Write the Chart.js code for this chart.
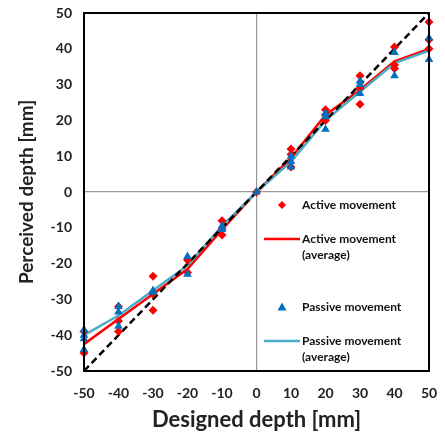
<!DOCTYPE html>
<html>
<head>
<meta charset="utf-8">
<script src="https://cdn.jsdelivr.net/npm/chart.js@4.4.0/dist/chart.umd.min.js"></script>
<style>
  html, body { margin: 0; padding: 0; background: #fff; }
  #wrap { width: 445px; height: 434px; }
</style>
</head>
<body>
<div id="wrap"><canvas id="chart" width="445" height="434"></canvas></div>
<script>
// designed depths (x axis, mm)
const designedDepth = [-50, -40, -30, -20, -10, 0, 10, 20, 30, 40, 50];

// individual trials per designed depth
const activeTrials = [
  [-39, -45], [-32, -36, -39], [-23.5, -33, -28.5], [-19, -22.5], [-8, -12, -10.5],
  [0], [12, 10.5, 7], [23, 21.5, 20], [32.5, 24.5, 29], [40.5, 35.5, 34.5], [47.5, 42.5, 40]
];
const passiveTrials = [
  [-38.5, -40, -41, -44], [-32, -33.5, -37.5], [-27.5, -28], [-18, -23], [-9.5, -10.5],
  [0], [10, 8.5, 7], [22, 21, 17.5], [31, 30, 27.5], [39, 32.5], [43, 37]
];

// averages
const activeAverage = [-42.5, -35.5, -28.5, -21.5, -10.5, 0, 9.5, 21.5, 28.5, 36.5, 40];
const passiveAverage = [-40, -34.5, -27.5, -20.5, -9.5, 0, 8.5, 20, 28, 36, 39.5];

const axisTicks = [-50, -40, -30, -20, -10, 0, 10, 20, 30, 40, 50];

const RED = '#ff0000';
const BLUE = '#0070c0';
const LIGHTBLUE = '#4bacc6';
const FONT = 'Lato, "Open Sans", sans-serif';

function toPoints(trials) {
  const pts = [];
  trials.forEach((vals, i) => {
    vals.forEach(v => pts.push({ x: designedDepth[i], y: v }));
  });
  return pts;
}
function pair(xs, ys) {
  return xs.map((x, i) => ({ x: x, y: ys[i] }));
}

// frame around the plot area + legend inside it
const framePlugin = {
  id: 'frame',
  afterDatasetsDraw(chart) {
    const { ctx, chartArea: a } = chart;
    ctx.save();
    ctx.strokeStyle = '#000';
    ctx.lineWidth = 2;
    ctx.strokeRect(a.left, a.top, a.right - a.left, a.bottom - a.top);

    const sx = a.right - 147;
    const tx = a.right - 127;
    ctx.font = 'bold 12px ' + FONT;
    ctx.fillStyle = '#111';
    ctx.textBaseline = 'middle';
    ctx.textAlign = 'left';

    // active markers
    let y = a.bottom - 166;
    ctx.fillStyle = RED;
    ctx.beginPath();
    ctx.moveTo(sx, y - 4); ctx.lineTo(sx + 4, y); ctx.lineTo(sx, y + 4); ctx.lineTo(sx - 4, y);
    ctx.closePath(); ctx.fill();
    ctx.fillStyle = '#111';
    ctx.fillText('Active movement', tx, y);

    // active average
    y = a.bottom - 132;
    ctx.strokeStyle = RED; ctx.lineWidth = 2.5;
    ctx.beginPath(); ctx.moveTo(a.right - 165, y); ctx.lineTo(a.right - 129, y); ctx.stroke();
    ctx.fillText('Active movement', tx, y);
    ctx.fillText('(average)', tx, y + 16);

    // passive markers
    y = a.bottom - 64;
    ctx.fillStyle = BLUE;
    ctx.beginPath();
    ctx.moveTo(sx, y - 4.5); ctx.lineTo(sx + 4.5, y + 3.5); ctx.lineTo(sx - 4.5, y + 3.5);
    ctx.closePath(); ctx.fill();
    ctx.fillStyle = '#111';
    ctx.fillText('Passive movement', tx, y);

    // passive average
    y = a.bottom - 30;
    ctx.strokeStyle = LIGHTBLUE; ctx.lineWidth = 2.5;
    ctx.beginPath(); ctx.moveTo(a.right - 165, y); ctx.lineTo(a.right - 129, y); ctx.stroke();
    ctx.fillText('Passive movement', tx, y);
    ctx.fillText('(average)', tx, y + 16);
    ctx.restore();
  }
};

new Chart(document.getElementById('chart').getContext('2d'), {
  type: 'scatter',
  data: {
    datasets: [
      {
        label: 'Passive movement',
        data: toPoints(passiveTrials),
        pointStyle: 'triangle',
        pointRadius: 5,
        backgroundColor: BLUE,
        borderColor: BLUE,
        borderWidth: 0,
        clip: false,
        order: 1,
      },
      {
        label: 'Active movement',
        data: toPoints(activeTrials),
        pointStyle: 'rectRot',
        pointRadius: 4.5,
        backgroundColor: RED,
        borderColor: RED,
        borderWidth: 0,
        clip: false,
        order: 2,
      },
      {
        label: 'Ideal',
        data: pair(designedDepth, designedDepth),
        showLine: true,
        borderColor: '#000',
        borderWidth: 2.5,
        borderDash: [7, 4],
        pointRadius: 0,
        order: 3,
      },
      {
        label: 'Passive movement (average)',
        data: pair(designedDepth, passiveAverage),
        showLine: true,
        borderColor: LIGHTBLUE,
        borderWidth: 2.5,
        pointRadius: 0,
        order: 4,
      },
      {
        label: 'Active movement (average)',
        data: pair(designedDepth, activeAverage),
        showLine: true,
        borderColor: RED,
        borderWidth: 2.5,
        pointRadius: 0,
        order: 5,
      },
    ],
  },
  options: {
    responsive: false,
    animation: false,
    layout: { padding: { top: 13, right: 16, left: 0, bottom: 0 } },
    plugins: {
      legend: { display: false },
      tooltip: { enabled: false },
    },
    scales: {
      x: {
        type: 'linear',
        min: -50, max: 50,
        afterBuildTicks(scale) { scale.ticks = axisTicks.map(v => ({ value: v })); },
        afterFit(scale) {
          scale.height = 63;
          scale.paddingLeft = 0; scale.paddingRight = 0;
        },
        grid: {
          drawTicks: false,
          color: c => (c.tick && c.tick.value === 0 ? '#999' : 'transparent'),
          lineWidth: 1.2,
        },
        border: { display: false },
        ticks: {
          padding: 14,
          color: '#222',
          font: { family: FONT, size: 14, weight: 'bold' },
        },
        title: {
          display: true,
          text: 'Designed depth [mm]',
          color: '#222',
          font: { family: FONT, size: 22, weight: 'bold' },
          padding: { top: 0, bottom: 1 },
        },
      },
      y: {
        type: 'linear',
        min: -50, max: 50,
        afterBuildTicks(scale) { scale.ticks = axisTicks.map(v => ({ value: v })); },
        afterFit(scale) {
          scale.width = 84;
          scale.paddingTop = 0; scale.paddingBottom = 0;
        },
        grid: {
          drawTicks: false,
          color: c => (c.tick && c.tick.value === 0 ? '#999' : 'transparent'),
          lineWidth: 1.2,
        },
        border: { display: false },
        ticks: {
          padding: 12,
          color: '#222',
          font: { family: FONT, size: 14, weight: 'bold' },
        },
        title: {
          display: true,
          text: 'Perceived depth [mm]',
          color: '#222',
          font: { family: FONT, size: 19, weight: 'bold' },
          padding: { top: 15, bottom: 0 },
        },
      },
    },
  },
  plugins: [framePlugin],
});
</script>
</body>
</html>
